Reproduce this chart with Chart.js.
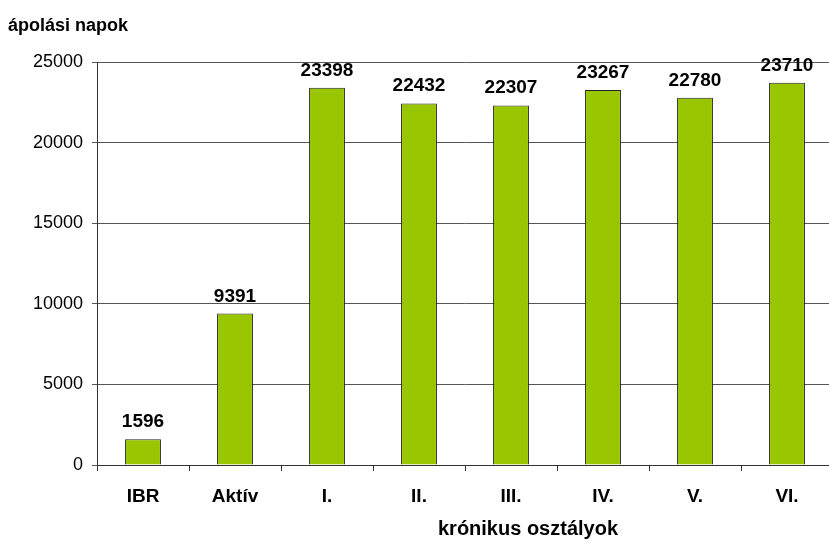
<!DOCTYPE html>
<html>
<head>
<meta charset="utf-8">
<script src="https://cdn.jsdelivr.net/npm/chart.js@4.4.1/dist/chart.umd.min.js"></script>
<style>
  html, body { margin: 0; padding: 0; background: #fff; overflow: hidden; }
  #wrap { position: relative; width: 833px; height: 543px; }
</style>
</head>
<body>
<div id="wrap"><canvas id="c" width="833" height="543"></canvas></div>
<script>
  // adatok
  const kategoriak = ["IBR", "Aktív", "I.", "II.", "III.", "IV.", "V.", "VI."];
  const napok = [1596, 9391, 23398, 22432, 22307, 23267, 22780, 23710];
  const yTickek = [0, 5000, 10000, 15000, 20000, 25000];
  const yCim = "ápolási napok";
  const xCim = "krónikus osztályok";

  const FONT = "'Liberation Sans', Arial, sans-serif";

  // oszlop feliratok + tengelycimek
  const feliratok = {
    id: "feliratok",
    afterDatasetsDraw(chart) {
      const ctx = chart.ctx;
      const meta = chart.getDatasetMeta(0);
      ctx.save();
      ctx.fillStyle = "#000";
      ctx.font = "bold 19px " + FONT;
      ctx.textAlign = "center";
      ctx.textBaseline = "alphabetic";
      meta.data.forEach((bar, i) => {
        ctx.fillText(String(napok[i]), bar.x, bar.y - 12);
      });
      ctx.font = "bold 18px " + FONT;
      ctx.textAlign = "left";
      ctx.textBaseline = "middle";
      ctx.fillText(yCim, 8, 26);
      ctx.font = "bold 20px " + FONT;
      ctx.textAlign = "center";
      ctx.fillText(xCim, 528, 529);
      ctx.restore();
    }
  };

  new Chart(document.getElementById("c"), {
    type: "bar",
    data: {
      labels: kategoriak,
      datasets: [{
        data: napok,
        backgroundColor: "#99c600",
        borderColor: "#222",
        borderWidth: 1,
        barPercentage: 0.39,
        categoryPercentage: 1
      }]
    },
    options: {
      responsive: false,
      animation: false,
      layout: { padding: { top: 62, right: 0, left: 0, bottom: 0 } },
      plugins: { legend: { display: false }, tooltip: { enabled: false } },
      scales: {
        x: {
          offset: true,
          grid: { drawOnChartArea: false, drawTicks: true, tickLength: 6, offset: true, color: "#333" },
          border: { color: "#333", width: 1 },
          ticks: { color: "#000", font: { family: FONT, size: 19, weight: "bold" }, padding: 14 },
          afterFit(s) { s.height = 78; }
        },
        y: {
          min: 0, max: 25000,
          afterBuildTicks(s) { s.ticks = yTickek.map(v => ({ value: v })); },
          grid: { color: "#555", tickLength: 5, lineWidth: 1 },
          border: { color: "#333", width: 1 },
          ticks: { color: "#000", font: { family: FONT, size: 18 }, padding: 9, callback: (v) => String(v) },
          afterFit(s) { s.width = 97; }
        }
      }
    },
    plugins: [feliratok]
  });
</script>
</body>
</html>
